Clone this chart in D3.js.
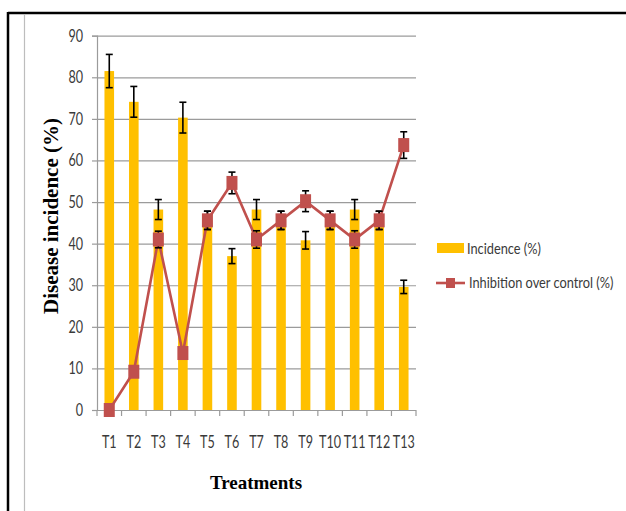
<!DOCTYPE html>
<html>
<head>
<meta charset="utf-8">
<script src="https://cdn.jsdelivr.net/npm/d3@7"></script>
<style>
body { margin: 0; background: #fff; }
svg { display: block; }
</style>
</head>
<body>
<div id="chart"></div>
<script>
var treatments = ['T1','T2','T3','T4','T5','T6','T7','T8','T9','T10','T11','T12','T13'];
var incidence = [81.5, 74.1, 48.2, 70.3, 45.6, 37.0, 48.2, 45.6, 40.8, 45.6, 48.2, 45.6, 29.6];
var incidenceErr = [4.0, 3.7, 2.4, 3.7, 2.2, 1.8, 2.4, 2.2, 2.1, 2.2, 2.4, 2.2, 1.6];
var inhibition = [0, 9.2, 41.0, 13.7, 45.6, 54.6, 41.0, 45.6, 50.2, 45.6, 41.0, 45.6, 63.7];
var inhibitionErr = [0, 1.0, 2.0, 1.0, 2.2, 2.6, 2.1, 2.2, 2.5, 2.2, 2.1, 2.2, 3.2];
var yTicks = [0, 10, 20, 30, 40, 50, 60, 70, 80, 90];

var dim = {
    'width': 626,
    'height': 511
};
var plot = { left: 97, right: 416, top: 35.7, bottom: 410 };

var sansFont = 'Lato, "Open Sans", sans-serif';
var serifFont = '"Liberation Serif", "DejaVu Serif", serif';
var squeeze = 0.8;   // Calibri-ish narrow look
var tickSqueeze = 0.74;

var svg = d3.select('#chart').append('svg')
    .attr('width', dim.width)
    .attr('height', dim.height);

// narrow label: g at (x,y), squeezed horizontally
function narrowText(parent, x, y, str, anchor, size, sq) {
    return parent.append('g')
        .attr('transform', `translate(${x},${y}) scale(${sq || squeeze},1)`)
        .append('text')
        .attr('text-anchor', anchor)
        .attr('font-family', sansFont)
        .attr('font-size', size)
        .attr('fill', '#3a3a3a')
        .text(str);
}

// outer frame
svg.append('line').attr('x1', 8).attr('x2', dim.width).attr('y1', 13).attr('y2', 13)
    .attr('stroke', '#000').attr('stroke-width', 2.5);
svg.append('line').attr('x1', 8).attr('x2', 8).attr('y1', 12).attr('y2', dim.height)
    .attr('stroke', '#000').attr('stroke-width', 2.5);
svg.append('line').attr('x1', 24.5).attr('x2', 24.5).attr('y1', 14).attr('y2', dim.height)
    .attr('stroke', '#bdbdbd').attr('stroke-width', 1.2);

var xScale = d3.scaleBand()
    .domain(treatments)
    .range([plot.left, plot.right]);
var yScale = d3.scaleLinear()
    .domain([0, 90])
    .range([plot.bottom, plot.top]);

// gridlines
svg.append('g').selectAll('line')
    .data(yTicks.filter(d => d > 0))
    .enter().append('line')
    .attr('x1', plot.left).attr('x2', plot.right)
    .attr('y1', d => yScale(d) + 0.5).attr('y2', d => yScale(d) + 0.5)
    .attr('stroke', '#9b9b9b').attr('stroke-width', 1.2);

// y axis
var yAxis = d3.axisLeft(yScale).tickValues(yTicks).tickSize(5).tickPadding(9);
var gy = svg.append('g').attr('transform', `translate(${plot.left},0)`).call(yAxis);
gy.select('.domain').attr('stroke', '#9b9b9b').attr('stroke-width', 1.2);
gy.selectAll('.tick line').attr('stroke', '#9b9b9b').attr('stroke-width', 1.2);
gy.selectAll('.tick text')
    .attr('font-family', sansFont).attr('font-size', 17).attr('fill', '#3a3a3a')
    .attr('transform', `scale(${tickSqueeze},1)`)
    .attr('x', -14 / tickSqueeze);

// x axis (ticks on band edges)
var gx = svg.append('g').attr('transform', `translate(0,${plot.bottom})`);
gx.append('line').attr('x1', plot.left).attr('x2', plot.right).attr('y1', 0.5).attr('y2', 0.5)
    .attr('stroke', '#9b9b9b').attr('stroke-width', 1.2);
gx.selectAll('.edge')
    .data(treatments.concat(['end']))
    .enter().append('line')
    .attr('x1', (d, i) => plot.left + i * xScale.step())
    .attr('x2', (d, i) => plot.left + i * xScale.step())
    .attr('y1', 0).attr('y2', 6)
    .attr('stroke', '#9b9b9b').attr('stroke-width', 1.2);
treatments.forEach(function (t) {
    narrowText(gx, xScale(t) + xScale.bandwidth() / 2, 38, t, 'middle', 17, tickSqueeze);
});

// bars
var barW = 9.6;
svg.append('g').selectAll('rect')
    .data(incidence)
    .enter().append('rect')
    .attr('x', (d, i) => xScale(treatments[i]) + xScale.bandwidth() / 2 - barW / 2)
    .attr('y', d => yScale(d))
    .attr('width', barW)
    .attr('height', d => plot.bottom - yScale(d))
    .attr('fill', '#FFC000');

function errorBars(values, errs) {
    var g = svg.append('g').attr('stroke', '#000').attr('stroke-width', 1.6);
    values.forEach(function (v, i) {
        if (!errs[i]) return;
        var cx = xScale(treatments[i]) + xScale.bandwidth() / 2;
        var y1 = yScale(v + errs[i]), y2 = yScale(v - errs[i]);
        g.append('line').attr('x1', cx).attr('x2', cx).attr('y1', y1).attr('y2', y2);
        g.append('line').attr('x1', cx - 3.5).attr('x2', cx + 3.5).attr('y1', y1).attr('y2', y1);
        g.append('line').attr('x1', cx - 3.5).attr('x2', cx + 3.5).attr('y1', y2).attr('y2', y2);
    });
}
errorBars(incidence, incidenceErr);

// inhibition line
var line = d3.line()
    .x((d, i) => xScale(treatments[i]) + xScale.bandwidth() / 2)
    .y(d => yScale(d));
svg.append('path')
    .datum(inhibition)
    .attr('d', line)
    .attr('fill', 'none')
    .attr('stroke', '#C0504D')
    .attr('stroke-width', 2.6);
errorBars(inhibition, inhibitionErr);
svg.append('g').selectAll('rect')
    .data(inhibition)
    .enter().append('rect')
    .attr('x', (d, i) => xScale(treatments[i]) + xScale.bandwidth() / 2 - 5.5)
    .attr('y', d => yScale(d) - 7)
    .attr('width', 11)
    .attr('height', 14)
    .attr('fill', '#C0504D');

// axis titles
svg.append('text')
    .attr('transform', 'translate(58,216) rotate(-90)')
    .attr('text-anchor', 'middle')
    .attr('font-family', serifFont).attr('font-weight', 'bold').attr('font-size', 21)
    .text('Disease incidence (%)');
svg.append('text')
    .attr('x', 256).attr('y', 489)
    .attr('text-anchor', 'middle')
    .attr('font-family', serifFont).attr('font-weight', 'bold').attr('font-size', 19)
    .text('Treatments');

// legend
var legend = svg.append('g');
legend.append('rect').attr('x', 437).attr('y', 243).attr('width', 27).attr('height', 10).attr('fill', '#FFC000');
narrowText(legend, 467, 254, 'Incidence (%)', 'start', 16);
legend.append('line').attr('x1', 436).attr('x2', 465).attr('y1', 283).attr('y2', 283)
    .attr('stroke', '#C0504D').attr('stroke-width', 2.6);
legend.append('rect').attr('x', 446).attr('y', 278).attr('width', 9).attr('height', 10).attr('fill', '#C0504D');
narrowText(legend, 469, 288, 'Inhibition over control (%)', 'start', 16);
</script>
</body>
</html>
